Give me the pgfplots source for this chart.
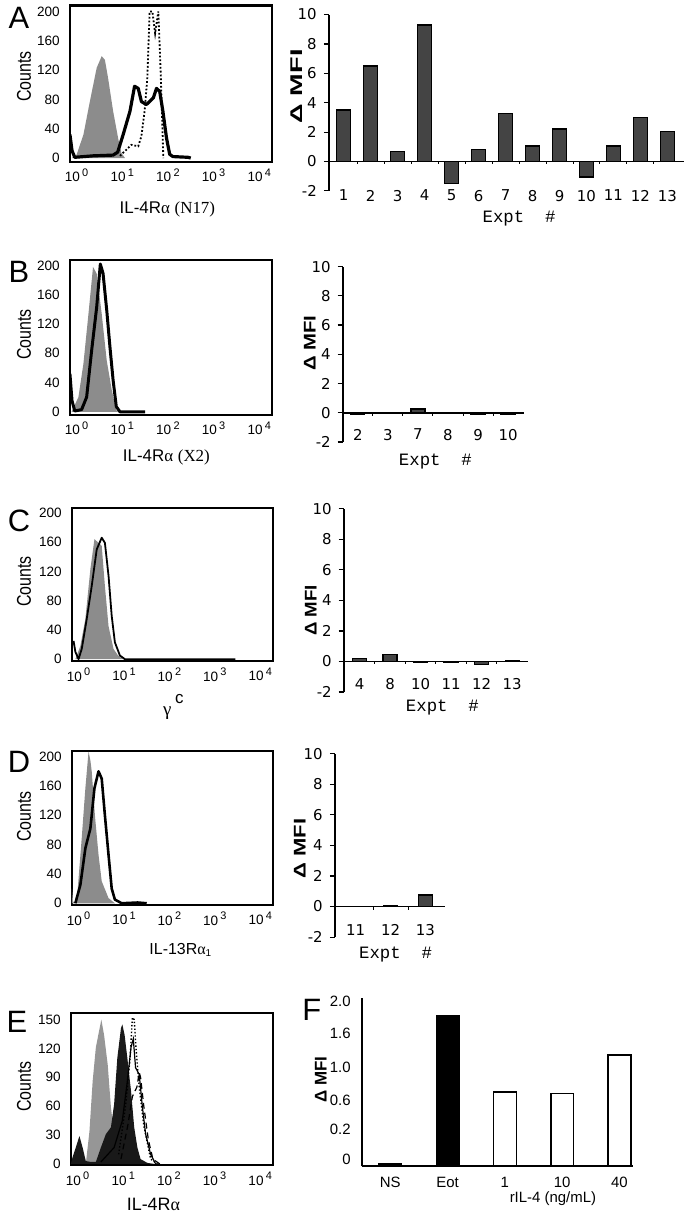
\documentclass[border=0pt]{standalone}
\usepackage{fontspec}
\setmainfont{Liberation Sans}
\newfontfamily\serf{Liberation Serif}
\newfontfamily\verd{DejaVu Sans}
\newfontfamily\cour{Liberation Mono}
\usepackage{pgfplots}
\pgfplotsset{compat=1.18}

\definecolor{hgray}{RGB}{140,140,140}
\definecolor{egray}{RGB}{150,150,150}
\definecolor{bargray}{RGB}{68,68,68}

\newcommand{\dec}[1]{10\,\raisebox{2.6pt}{\fontsize{5.5}{6}\selectfont #1}}
\newcommand{\mfi}[1]{\scalebox{#1}[1]{\bfseries\fontsize{8.5}{9}\selectfont Δ MFI}}
\newcommand{\cnt}{\scalebox{0.8}[1]{\fontsize{10}{10}\selectfont Counts}}

\pgfplotsset{
  hist/.style={
    scale only axis, anchor=north west,
    xmin=-0.15, xmax=4.28,
    axis line style={line width=1.1pt},
    xtick={0,1,2,3,4},
    xticklabels={\dec{0},\dec{1},\dec{2},\dec{3},\dec{4}},
    tick style={draw=none},
    ticklabel style={font=\fontsize{6.8}{7}\selectfont},
    yticklabel style={xshift=-1.5pt},
    /pgf/number format/assume math mode=true,
  },
  expt/.style={
    scale only axis, anchor=north west,
    ybar, bar shift=0pt, bar width=7pt,
    ymin=-2, ymax=10, ytick={-2,0,2,4,6,8,10},
    yticklabels={-2,0,2,4,6,8,10},
    axis x line*=bottom, axis y line*=left,
    axis line style={-},
    x axis line style={draw=none},
    y axis line style={line width=0.8pt},
    xtick style={draw=none},
    ytick style={line width=0.6pt, black},
    tick align=outside, major tick length=2.5pt,
    ticklabel style={font=\verd\fontsize{7.5}{8}\selectfont},
    /pgf/number format/assume math mode=true,
  },
  bars/.style={fill=bargray, draw=black, line width=0.7pt},
}

\begin{document}
\begin{tikzpicture}
\path (0,0) rectangle (341.5pt,-608.5pt);

% ---------- histograms ----------
\begin{axis}[hist, at={(31.5pt,-2pt)}, width=101.5pt, height=78.5pt,
  ymin=-5.4, ymax=208, ytick={0,40,...,200}]
\addplot[fill=hgray, draw=none] coordinates {
  (-0.11,0) (0,4.5) (0.15,32) (0.29,77) (0.44,123) (0.55,139) (0.62,134)
  (0.69,109) (0.80,64) (0.91,27) (0.98,7) (1.06,0)} \closedcycle;
\addplot[black, line width=0.9pt, densely dotted] coordinates {
  (0.95,3) (1.1,12) (1.2,18) (1.35,16) (1.42,30) (1.49,64) (1.55,110)
  (1.6,200) (1.66,200) (1.72,170) (1.79,200) (1.84,120) (1.9,0)};
\addplot[black, line width=1.6pt, line join=round] coordinates {
  (-0.146,32) (-0.1,10) (-0.04,1) (0.36,3) (0.80,4) (0.9,8) (1.02,32)
  (1.17,64) (1.27,98) (1.35,95) (1.42,77) (1.53,73) (1.68,82) (1.75,95)
  (1.82,91) (1.89,64) (1.97,27) (2.04,5) (2.11,2) (2.44,1) (2.5,0)};
\end{axis}

\begin{axis}[hist, at={(31.5pt,-129.5pt)}, width=101.5pt, height=78pt,
  ymin=-4.5, ymax=208, ytick={0,40,...,200}]
\addplot[fill=hgray, draw=none] coordinates {
  (-0.11,0) (0.04,20) (0.15,66) (0.26,134) (0.36,198) (0.44,189) (0.55,134)
  (0.66,70) (0.77,30) (0.87,2) (0.91,0)} \closedcycle;
\addplot[black, line width=1.5pt, line join=round] coordinates {
  (-0.146,52) (-0.1,15) (-0.04,1) (0.11,3) (0.22,20) (0.33,84) (0.44,143)
  (0.52,202) (0.58,189) (0.66,139) (0.73,89) (0.80,43) (0.87,7) (0.95,0) (1.5,0)};
\end{axis}

\begin{axis}[hist, at={(32.5pt,-254pt)}, width=101pt, height=77pt,
  ymin=-2.7, ymax=207, ytick={0,40,...,200}]
\addplot[fill=hgray, draw=none] coordinates {
  (-0.07,0) (0.04,18) (0.15,55) (0.26,123) (0.35,164) (0.44,159) (0.51,155)
  (0.58,100) (0.66,45) (0.77,14) (0.87,5) (0.98,0)} \closedcycle;
\addplot[black, line width=0.9pt, line join=round] coordinates {
  (-0.11,25) (-0.07,10) (0,0) (0.07,14) (0.18,55) (0.29,100) (0.4,150)
  (0.51,166) (0.58,159) (0.66,114) (0.73,59) (0.80,23) (0.91,5) (1.02,0) (3.45,0)};
\end{axis}

\begin{axis}[hist, at={(32.5pt,-376pt)}, width=101pt, height=77.5pt,
  ymin=-2.7, ymax=208, ytick={0,40,...,200}]
\addplot[fill=hgray, draw=none] coordinates {
  (-0.146,20) (-0.12,2) (-0.04,2) (0.07,89) (0.15,157) (0.22,207) (0.26,195)
  (0.29,180) (0.36,120) (0.44,66) (0.51,30) (0.66,7) (0.80,0)} \closedcycle;
\addplot[black, line width=1.3pt, line join=round] coordinates {
  (-0.07,0) (-0.04,7) (0.04,25) (0.15,75) (0.26,102) (0.35,157) (0.44,180)
  (0.51,170) (0.58,120) (0.66,66) (0.73,20) (0.80,5) (0.95,0) (1.3,1) (1.5,0)};
\end{axis}

\begin{axis}[hist, at={(32pt,-507.5pt)}, width=101.5pt, height=76.5pt,
  ymin=-1.4, ymax=157, ytick={0,30,...,150}]
\addplot[fill=egray, draw=none] coordinates {
  (0.18,0) (0.26,34) (0.33,86) (0.40,121) (0.47,138) (0.52,150) (0.58,134)
  (0.66,103) (0.73,59) (0.80,31) (0.87,10) (0.95,0)} \closedcycle;
\addplot[fill=black!90, draw=none] coordinates {
  (-0.146,0) (-0.11,7) (-0.04,17) (0.04,29) (0.11,17) (0.18,3) (0.29,2)
  (0.40,2) (0.51,17) (0.62,31) (0.73,38) (0.80,62) (0.87,110) (0.95,141)
  (0.98,145) (1.03,134) (1.09,110) (1.17,76) (1.24,38) (1.31,17) (1.38,5)
  (1.53,1) (1.68,0)} \closedcycle;
\addplot[black, line width=0.6pt, densely dashed] coordinates {
  (0.95,5) (1.1,40) (1.2,70) (1.3,80) (1.35,95) (1.38,90) (1.45,60)
  (1.55,25) (1.65,5) (1.8,0)};
\addplot[black, line width=0.7pt, densely dotted] coordinates {
  (0.9,10) (1.05,60) (1.15,110) (1.2,152) (1.24,150) (1.28,120) (1.35,80)
  (1.45,40) (1.6,5) (1.75,0)};
\addplot[black, line width=0.6pt] coordinates {
  (0.51,2) (0.80,17) (0.98,45) (1.09,86) (1.17,121) (1.22,130) (1.27,100)
  (1.35,93) (1.42,59) (1.49,31) (1.60,10) (1.71,0)};
\end{axis}

% ---------- delta MFI bar charts ----------
\begin{axis}[expt, at={(161.5pt,-6.5pt)}, width=178.5pt, height=88.5pt,
  xmin=0.45, xmax=13.63, xtick={1,...,13},
  xticklabel style={yshift=6.5pt}]
\addplot[bars] coordinates {
  (1,3.5) (2,6.5) (3,0.7) (4,9.3) (5,-1.5) (6,0.8) (7,3.25) (8,1.05)
  (9,2.2) (10,-1.05) (11,1.05) (12,3.0) (13,2.05)};
\draw[line width=0.8pt] (axis description cs:0,0.16667) -- (axis description cs:1,0.16667);
\pgfplotsinvokeforeach{1.5,2.5,...,12.5}{\draw[line width=0.5pt] (axis cs:#1,0) -- ++(0pt,-1.5pt);}
\end{axis}

\begin{axis}[expt, at={(168.5pt,-133pt)}, width=91pt, height=88pt,
  xmin=-0.5, xmax=5.53, xtick={0,...,5}, xticklabels={2,3,7,8,9,10},
  xticklabel style={yshift=12.5pt}]
\addplot[bars] coordinates {
  (0,-0.08) (1,0) (2,0.25) (3,-0.06) (4,-0.1) (5,-0.08)};
\draw[line width=0.8pt] (axis description cs:0,0.16667) -- (axis description cs:1,0.16667);
\pgfplotsinvokeforeach{0.5,1.5,...,4.5}{\draw[line width=0.5pt] (axis cs:#1,0) -- ++(0pt,-1.5pt);}
\end{axis}

\begin{axis}[expt, at={(169pt,-254.5pt)}, width=92.5pt, height=92pt,
  xmin=-0.52, xmax=5.52, xtick={0,...,5}, xticklabels={4,8,10,11,12,13},
  xticklabel style={yshift=13pt}]
\addplot[bars] coordinates {
  (0,0.18) (1,0.45) (2,-0.08) (3,-0.08) (4,-0.18) (5,0.05)};
\draw[line width=0.8pt] (axis description cs:0,0.16667) -- (axis description cs:1,0.16667);
\pgfplotsinvokeforeach{0.5,1.5,...,4.5}{\draw[line width=0.5pt] (axis cs:#1,0) -- ++(0pt,-1.5pt);}
\end{axis}

\begin{axis}[expt, at={(164.5pt,-377.5pt)}, width=55.5pt, height=92pt,
  xmin=-0.6, xmax=2.57, xtick={0,1,2}, xticklabels={11,12,13},
  xticklabel style={yshift=12.5pt}]
\addplot[bars] coordinates {(0,0) (1,0.05) (2,0.75)};
\draw[line width=0.8pt] (axis description cs:0,0.16667) -- (axis description cs:1,0.16667);
\pgfplotsinvokeforeach{0.5,1.5}{\draw[line width=0.5pt] (axis cs:#1,0) -- ++(0pt,-1.5pt);}
\end{axis}

% ---------- panel F ----------
\begin{axis}[scale only axis, anchor=north west, at={(178pt,-500pt)},
  width=136pt, height=84.5pt,
  ybar, bar shift=0pt, bar width=11.5pt,
  xmin=-0.5, xmax=4.23, ymin=0, ymax=2.13,
  axis x line*=bottom, axis y line*=left,
  axis line style={-, line width=1pt},
  tick style={draw=none},
  xtick={0,...,4}, xticklabels={NS,Eot,1,10,40},
  ytick={0.09,0.465,0.83,1.245,1.685,2.09},
  yticklabels={0,0.2,0.6,1.0,1.6,2.0},
  ticklabel style={font=\fontsize{7.5}{8}\selectfont},
  yticklabel style={xshift=-2pt},
  xticklabel style={yshift=2.5pt},
]
\addplot[fill=black, draw=black, line width=0.6pt] coordinates {(0,0.04) (1,1.91)};
\addplot[fill=white, draw=black, line width=0.8pt] coordinates {(2,0.94) (3,0.92) (4,1.41)};
\end{axis}

% ---------- letters and labels ----------
\begin{scope}[every node/.style={font=\fontsize{15.5}{16}\selectfont}]
\node at (6pt,-8pt) {A};
\node at (6pt,-135.5pt) {B};
\node at (6pt,-260.5pt) {C};
\node at (6pt,-381.5pt) {D};
\node at (5pt,-512pt) {E};
\node at (153pt,-506pt) {F};
\end{scope}

\node[rotate=90] at (8.5pt,-37.5pt) {\cnt};
\node[rotate=90] at (8.5pt,-167pt) {\cnt};
\node[rotate=90] at (8.5pt,-291pt) {\cnt};
\node[rotate=90] at (8.5pt,-409pt) {\cnt};
\node[rotate=90] at (8.5pt,-544.5pt) {\cnt};

\node at (80.5pt,-104.5pt) {\fontsize{8.5}{9}\selectfont IL-4R{\serf α} {\serf (N17)}};
\node at (80pt,-229pt) {\fontsize{8.5}{9}\selectfont IL-4R{\serf α} {\serf (X2)}};
\node at (80.5pt,-357pt) {\fontsize{9.5}{10}\selectfont\serf γ};
\node at (86.5pt,-350pt) {\fontsize{8.5}{9}\selectfont c};
\node at (87pt,-476pt) {\fontsize{8}{9}\selectfont IL-13R{\serf α}\raisebox{-1.2pt}{\fontsize{5}{5}\selectfont 1}};
\node at (73.5pt,-603.5pt) {\fontsize{9}{10}\selectfont IL-4R{\serf α}};

\begin{scope}[every node/.style={font=\cour\fontsize{8.7}{9}\selectfont}]
\node at (257pt,-109pt) {Expt~~\#};
\node at (215pt,-231pt) {Expt~~\#};
\node at (218.5pt,-354.5pt) {Expt~~\#};
\node at (195pt,-478pt) {Expt~~\#};
\end{scope}

\node[rotate=90] at (145.5pt,-42.5pt) {\mfi{1.6}};
\node[rotate=90] at (152pt,-171.5pt) {\mfi{1.2}};
\node[rotate=90] at (152.5pt,-305.5pt) {\mfi{1.1}};
\node[rotate=90] at (147pt,-425pt) {\mfi{1.3}};
\node[rotate=90] at (157.5pt,-541pt) {\mfi{1.0}};

\node at (274pt,-600.5pt) {\fontsize{7.5}{8}\selectfont rIL-4 (ng/mL)};
\end{tikzpicture}
\end{document}
